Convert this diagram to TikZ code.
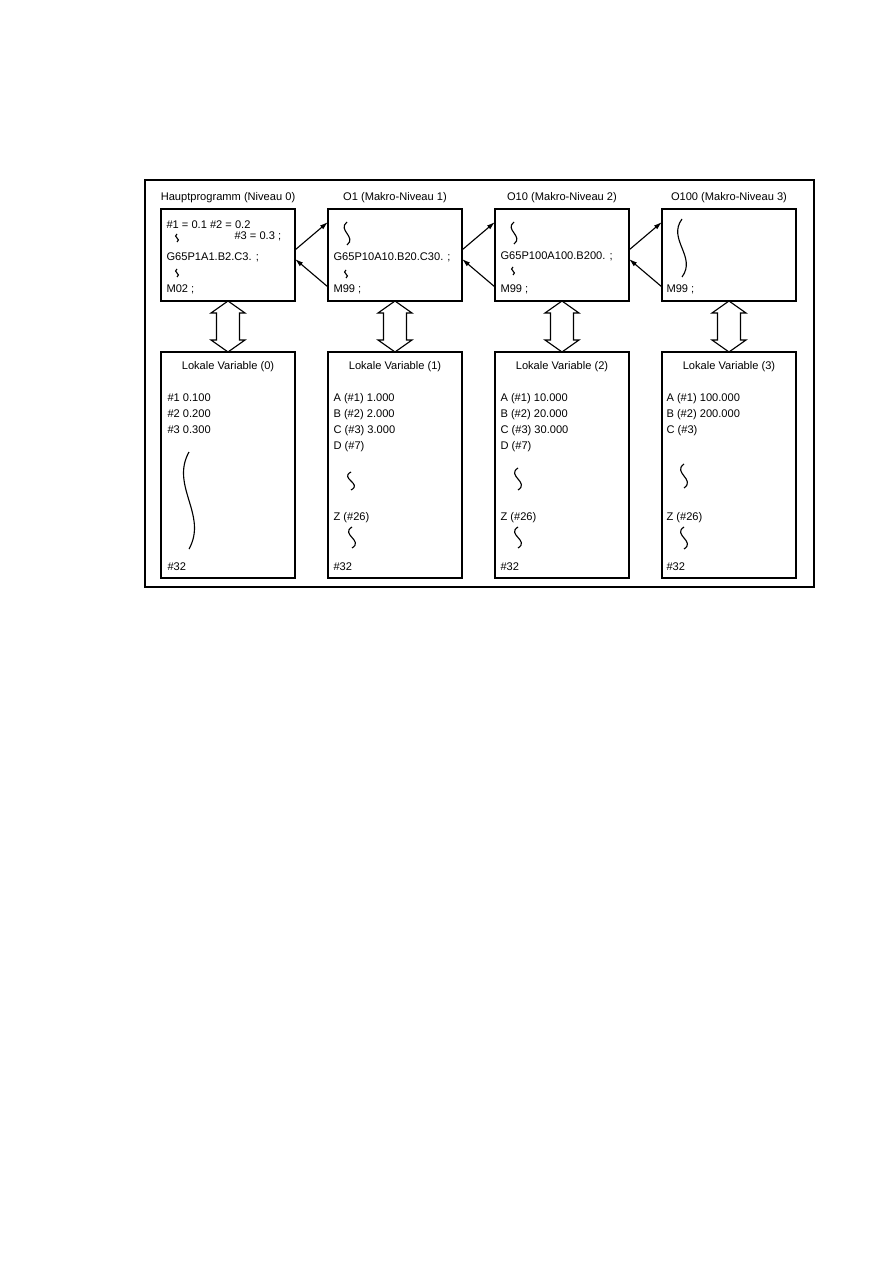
\documentclass[tikz,border=0pt]{standalone}
\usepackage{fontspec}
\setmainfont{Liberation Sans}
\usetikzlibrary{arrows.meta,positioning,calc}

\begin{document}
\begin{tikzpicture}[x=0.6668pt, y=-0.6668pt, >={Latex[length=5.5pt,width=3.3pt]},
    font=\fontsize{7.4}{9}\selectfont, line width=0.75pt,
    prog/.style={draw, minimum width=89.35pt, minimum height=61.35pt, inner sep=0pt, outer sep=0pt},
    var/.style={draw, minimum width=89.35pt, minimum height=150.7pt, inner sep=0pt, outer sep=0pt},
    head/.style={anchor=base, inner sep=0pt},
    txt/.style={anchor=base west, inner sep=0pt},
    hollow/.style={draw, fill=white, line join=miter},
    squig/.pic={\draw (0,0) .. controls (-1,0.35) and (1,0.65) .. (0,1);}]
  \useasboundingbox (0,0) rectangle (893,1263);
  \draw[line width=0.9pt] (145,180) rectangle (814,587);

  % programme levels
  \node[prog] (p0) at (228,255) {};
  \node[prog, right=22pt of p0] (p1) {};
  \node[prog, right=22pt of p1] (p2) {};
  \node[prog, right=22pt of p2] (p3) {};
  \node[head] (h0) at ($(p0.north)+(0,-8.5)$) {Hauptprogramm (Niveau 0)};
  \node[head] (h1) at ($(p1.north)+(0,-8.5)$) {O1 (Makro-Niveau 1)};
  \node[head] (h2) at ($(p2.north)+(0,-8.5)$) {O10 (Makro-Niveau 2)};
  \node[head] (h3) at ($(p3.north)+(0,-8.5)$) {O100 (Makro-Niveau 3)};

  % local variables
  \node[var, below=34pt of p0] (v0) {};
  \node[var, below=34pt of p1] (v1) {};
  \node[var, below=34pt of p2] (v2) {};
  \node[var, below=34pt of p3] (v3) {};
  \node[head] (l0) at ($(v0.north)+(0,17.5)$) {Lokale Variable (0)};
  \node[head] (l1) at ($(v1.north)+(0,17.5)$) {Lokale Variable (1)};
  \node[head] (l2) at ($(v2.north)+(0,17.5)$) {Lokale Variable (2)};
  \node[head] (l3) at ($(v3.north)+(0,17.5)$) {Lokale Variable (3)};

  % main program
  \node[txt] (p0a) at (166,229) {\#1 = 0.1 \#2 = 0.2};
  \node[txt] (p0b) at (234,240) {\#3 = 0.3 ;};
  \pic[xscale=5, yscale=8] at (177,234) {squig};
  \node[txt] (p0c) at (166,261) {G65P1A1.B2.C3. ;};
  \pic[xscale=5, yscale=8] at (177,269) {squig};
  \node[txt] (p0d) at (166,292.5) {M02 ;};

  % O1
  \pic[xscale=10, yscale=23] at (347,222) {squig};
  \node[txt] (p1a) at (333,261) {G65P10A10.B20.C30. ;};
  \pic[xscale=5, yscale=8] at (346,270) {squig};
  \node[txt] (p1b) at (333,292.5) {M99 ;};

  % O10
  \pic[xscale=10, yscale=22] at (514,222) {squig};
  \node[txt] (p2a) at (500,260) {G65P100A100.B200. ;};
  \pic[xscale=5, yscale=8] at (513,267) {squig};
  \node[txt] (p2b) at (500,292.5) {M99 ;};

  % O100
  \pic[xscale=15, yscale=58] at (682,219) {squig};
  \node[txt] (p3a) at (666,292.5) {M99 ;};

  % calls and returns
  \draw[->] ($(p0.north east)+(0,41)$) -- ($(p1.north west)+(0,13)$);
  \draw[->] ($(p1.north west)+(0,78)$) -- ($(p0.north east)+(0,50)$);
  \draw[->] ($(p1.north east)+(0,41)$) -- ($(p2.north west)+(0,13)$);
  \draw[->] ($(p2.north west)+(0,78)$) -- ($(p1.north east)+(0,50)$);
  \draw[->] ($(p2.north east)+(0,41)$) -- ($(p3.north west)+(0,13)$);
  \draw[->] ($(p3.north west)+(0,78)$) -- ($(p2.north east)+(0,50)$);

  % level 0 variables
  \node[txt] (v0a) at (167,401.5) {\#1 0.100};
  \node[txt] (v0b) at (167,417.5) {\#2 0.200};
  \node[txt] (v0c) at (167,433) {\#3 0.300};
  \pic[xscale=19, yscale=97] at (189,452) {squig};
  \node[txt] (v0z) at (167,570) {\#32};

  % level 1 variables
  \node[txt] (v1a) at (333,401.5) {A (\#1) 1.000};
  \node[txt] (v1b) at (333,417.5) {B (\#2) 2.000};
  \node[txt] (v1c) at (333,433) {C (\#3) 3.000};
  \node[txt] (v1d) at (333,449) {D (\#7)};
  \pic[xscale=12, yscale=18] at (351,472) {squig};
  \node[txt] (v1e) at (333,520) {Z (\#26)};
  \pic[xscale=12, yscale=21] at (352,527) {squig};
  \node[txt] (v1z) at (333,570) {\#32};

  % level 2 variables
  \node[txt] (v2a) at (500,401.5) {A (\#1) 10.000};
  \node[txt] (v2b) at (500,417.5) {B (\#2) 20.000};
  \node[txt] (v2c) at (500,433) {C (\#3) 30.000};
  \node[txt] (v2d) at (500,449) {D (\#7)};
  \pic[xscale=12, yscale=22] at (518,468) {squig};
  \node[txt] (v2e) at (500,520) {Z (\#26)};
  \pic[xscale=12, yscale=21] at (518,527) {squig};
  \node[txt] (v2z) at (500,570) {\#32};

  % level 3 variables
  \node[txt] (v3a) at (666,401.5) {A (\#1) 100.000};
  \node[txt] (v3b) at (666,417.5) {B (\#2) 200.000};
  \node[txt] (v3c) at (666,433) {C (\#3)};
  \pic[xscale=12, yscale=24] at (684,464) {squig};
  \node[txt] (v3e) at (666,520) {Z (\#26)};
  \pic[xscale=12, yscale=22] at (684,527) {squig};
  \node[txt] (v3z) at (666,570) {\#32};

  % program <-> variables
  \foreach \a/\b in {p0/v0,p1/v1,p2/v2,p3/v3}
    \draw[hollow] (\a.south) -- ($(\a.south)+(17,12)$) -- ($(\a.south)+(11.5,12)$)
      -- ($(\b.north)+(11.5,-12)$) -- ($(\b.north)+(17,-12)$) -- (\b.north)
      -- ($(\b.north)+(-17,-12)$) -- ($(\b.north)+(-11.5,-12)$)
      -- ($(\a.south)+(-11.5,12)$) -- ($(\a.south)+(-17,12)$) -- cycle;
\end{tikzpicture}
\end{document}
